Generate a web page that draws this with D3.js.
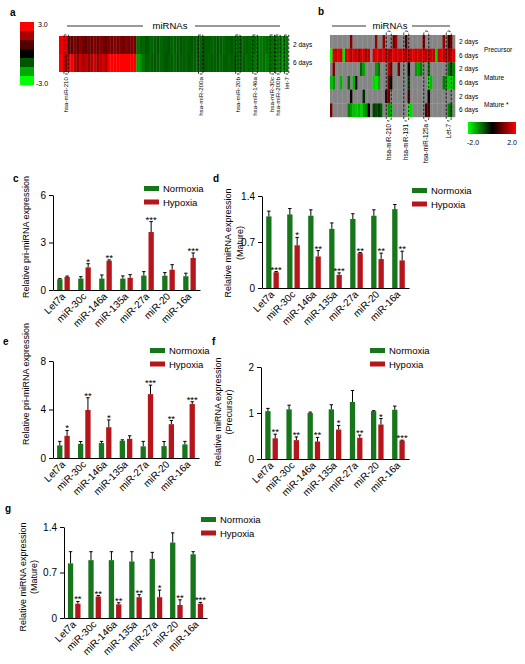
<!DOCTYPE html>
<html><head><meta charset="utf-8">
<script src="https://cdn.jsdelivr.net/npm/d3@7"></script>
<style>
body{margin:0;background:#fff;}
svg{font-family:"Liberation Sans",Arial,Helvetica,sans-serif;}
</style></head>
<body><svg id="fig" width="525" height="664"></svg>
<script>
// ---------------- DATA ----------------
const categories = ["Let7a","miR-30c","miR-146a","miR-135a","miR-27a","miR-20","miR-16a"];
const seriesNames = ["Normoxia","Hypoxia"];

const cNormoxia    = [0.68,0.72,0.72,0.72,0.91,0.90,0.87];
const cNormoxiaErr = [0.04,0.12,0.23,0.17,0.25,0.20,0.19];
const cHypoxia     = [0.83,1.43,1.85,0.77,3.66,1.28,2.02];
const cHypoxiaErr  = [0.05,0.23,0.05,0.20,0.66,0.32,0.32];
const cStars       = ["","*","**","","***","","***"];
const cTicks = [0,3,6];

const dNormoxia    = [1.09,1.12,1.10,0.90,1.05,1.10,1.20];
const dNormoxiaErr = [0.08,0.09,0.09,0.09,0.08,0.09,0.07];
const dHypoxia     = [0.24,0.65,0.48,0.20,0.53,0.44,0.42];
const dHypoxiaErr  = [0.01,0.12,0.09,0.03,0.01,0.09,0.14];
const dStars       = ["***","*","**","***","**","**","**"];
const dTicks = [0,0.7,1.4];

const eNormoxia    = [1.04,1.17,1.23,1.42,0.96,0.98,1.12];
const eNormoxiaErr = [0.33,0.19,0.14,0.08,0.41,0.38,0.25];
const eHypoxia     = [1.83,3.96,2.54,1.58,5.27,2.79,4.45];
const eHypoxiaErr  = [0.44,1.01,0.60,0.25,0.74,0.30,0.19];
const eStars       = ["*","**","*","","***","**","***"];
const eTicks = [0,4,8];

const fNormoxia    = [1.04,1.08,1.00,1.08,1.24,1.04,1.07];
const fNormoxiaErr = [0.06,0.09,0.02,0.10,0.25,0.01,0.08];
const fHypoxia     = [0.45,0.41,0.38,0.64,0.46,0.75,0.40];
const fHypoxiaErr  = [0.09,0.07,0.09,0.09,0.06,0.13,0.01];
const fStars       = ["**","**","**","*","**","*","***"];
const fTicks = [0,1,2];

const gNormoxia    = [0.84,0.89,0.89,0.87,0.91,1.16,0.98];
const gNormoxiaErr = [0.18,0.13,0.13,0.15,0.10,0.15,0.04];
const gHypoxia     = [0.22,0.33,0.21,0.32,0.32,0.20,0.22];
const gHypoxiaErr  = [0.035,0.015,0.025,0.04,0.11,0.08,0.02];
const gStars       = ["**","**","**","**","*","**","***"];
const gTicks = [0,0.7,1.4];

// heatmap a (log2 fold, -3..3), 80 miRNA columns
const aRows = ["2 days","6 days"];
const a2days = [2.7,2.9,2.6,
 1.3,1.1,1.5,1.2,1.6,1.3,1.1,1.4,1.2,1.5,1.3,1.6,1.4,1.2,1.5,1.3,1.6,1.4,1.5,1.3,1.6,1.4,1.5,1.3,
 -1.3,-1.1,-1.2,-1.0,-1.1,-1.2,-1.1,-1.0,-1.2,-1.1,
 -1.1,-1.0,-1.2,-1.1,-1.1,-1.0,-1.1,-1.2,-1.1,-1.0,
 -1.1,-1.1,-1.2,-1.0,-1.1,-1.1,-1.2,-1.1,-1.0,-1.1,
 -1.2,-1.1,-1.1,-1.0,-1.2,-1.1,-1.1,-1.2,-1.1,-1.2,
 -1.3,-1.2,-1.3,-1.4,-1.3,-1.2,-1.4,-1.3,-1.5,-1.3,
 -1.4,-1.5,-1.4];
const a6days = [3.0,2.9,1.5,2.8,2.9,
 2.2,1.8,2.4,2.0,2.3,1.7,2.1,2.4,1.9,2.2,2.5,2.0,
 3.0,3.0,3.0,3.0,3.0,3.0,3.0,3.0,3.0,3.0,
 -1.9,-1.7,-1.4,-1.1,-1.2,-1.1,-1.0,-1.1,-1.2,-1.1,
 -1.0,-1.1,-1.1,-1.2,-1.0,-1.1,-1.1,-1.2,-1.0,-1.1,
 -1.1,-1.2,-1.1,-1.0,-1.1,-1.2,-1.1,-1.1,-1.0,-1.2,
 -1.1,-1.1,-1.2,-1.1,-1.0,-1.1,-1.2,-1.1,-1.3,-1.2,
 -1.3,-1.4,-1.2,-1.4,-1.3,-1.5,-1.4,-1.3,-1.6,-1.4,
 -1.5,-1.6,-1.5];
const aHighlightNames = ["hsa-miR-210","hsa-miR-200a","hsa-miR-20b","hsa-miR-146a","hsa-miR-30c","hsa-miR-200b","let-7"];
const aHighlightCols  = [2,49,62,68,74,76,79];
const aLegendValues = [3,2,1,0,-1,-2,-3];
const aLegendLabels = ["3.0","-3.0"];

// heatmap b (-2..2, null = not detected), 50 columns
const bRowLabels = ["2 days","6 days","2 days","6 days","2 days","6 days"];
const bGroupLabels = ["Precursor","Mature","Mature *"];
const bPre2 = [null,null,null,null,null,null,null,null,1.0,null,
 null,null,null,null,null,null,null,null,1.2,null,
 null,1.1,null,null,null,0.9,1.3,null,null,null,
 0.6,null,null,null,null,null,null,1.0,null,null,
 null,null,null,null,null,1.2,null,0.4,1.0,null];
const bPre6 = [-2.0,1.7,1.5,1.8,1.6,-1.8,1.6,1.8,1.4,1.7,
 1.5,1.3,1.6,1.7,1.2,1.5,null,1.6,1.8,1.7,
 1.5,1.8,1.6,1.3,1.7,1.8,1.5,1.7,1.6,1.8,
 1.2,1.7,1.6,1.8,1.5,1.7,1.6,1.8,1.4,1.7,
 1.6,1.5,-1.7,1.6,1.8,1.5,1.7,1.2,1.6,1.7];
const bMat2 = [null,1.0,null,null,null,null,null,null,null,null,
 null,null,-0.8,-1.3,null,null,null,null,-1.2,-0.9,
 null,null,null,1.4,1.0,null,null,0.9,null,null,
 null,0.1,null,null,-1.2,-1.3,-1.0,null,null,-1.0,
 null,null,null,null,null,null,null,-0.9,-0.6,-1.0];
const bMat6 = [-1.5,-1.2,null,null,-1.4,null,null,-0.8,null,-1.4,
 0.0,null,null,null,null,null,null,-1.7,-1.8,-1.4,
 null,null,null,0.8,0.2,null,null,null,null,null,
 null,-0.6,null,null,null,null,null,null,null,-1.9,
 -1.5,null,null,null,null,-1.0,-1.3,-1.6,-1.8,-1.2];
const bStar2 = [null,null,null,null,null,null,null,null,0.1,null,
 null,null,null,-0.3,null,null,null,null,null,null,
 null,null,0.6,0.9,null,null,null,null,null,null,
 null,0.7,null,null,null,null,null,null,null,0.1,
 null,null,null,null,null,null,null,null,null,null];
const bStar6 = [0.9,null,null,null,null,null,null,-1.0,-1.2,-1.5,
 -1.6,-1.4,-1.7,-1.3,-1.1,0.1,null,-0.5,-0.6,-0.4,
 -0.7,null,null,-1.2,-1.5,null,null,null,null,null,
 null,-2.0,-1.7,null,null,null,null,null,0.6,0.8,
 null,null,null,null,null,null,null,-1.0,-0.8,null];
const bHighlightNames = ["hsa-miR-210","hsa-miR-191","hsa-miR-125a","Let-7"];
const bHighlightCols  = [23,30,38,47];
const bLegendLabels = ["-2.0","2.0"];

// ---------------- DRAW ----------------
const svg = d3.select("#fig");
const GREEN = "#17761b", RED = "#b5161b";

function panelLabel(t,x,y){
  svg.append("text").attr("x",x).attr("y",y).attr("font-size",10).attr("font-weight","bold").text(t);
}

// ---- panel a ----
panelLabel("a",10,16);
const aColor = d3.scaleLinear().domain([-3,0,3]).range(["#00ff00","#000000","#ff0000"]).clamp(true);
const aLeg = d3.scaleBand().domain(d3.range(aLegendValues.length)).range([22,85]);
svg.append("g").selectAll("rect").data(aLegendValues).join("rect")
  .attr("x",20).attr("width",14).attr("y",(d,i)=>aLeg(i)).attr("height",aLeg.bandwidth()+0.3)
  .attr("fill",d=>aColor(d));
svg.append("text").attr("x",38).attr("y",27).attr("font-size",7).text(aLegendLabels[0]);
svg.append("text").attr("x",36).attr("y",86).attr("font-size",7).text(aLegendLabels[1]);

const aX = d3.scaleBand().domain(d3.range(a2days.length)).range([59,288]);
const aY = d3.scaleBand().domain(aRows).range([36,72]);
const aData = [a2days,a6days];
aData.forEach((row,ri)=>{
  svg.append("g").selectAll("rect").data(row).join("rect")
    .attr("x",(d,i)=>aX(i)).attr("width",aX.bandwidth()+0.3)
    .attr("y",aY(aRows[ri])).attr("height",aY.bandwidth())
    .attr("fill",d=>aColor(d));
});
aRows.forEach(r=>svg.append("text").attr("x",293).attr("y",aY(r)+aY.bandwidth()/2+2.2).attr("font-size",6.5).text(r));
// miRNAs header a
svg.append("line").attr("x1",67).attr("x2",143).attr("y1",26).attr("y2",26).attr("stroke","#000").attr("stroke-width",0.8);
svg.append("line").attr("x1",195).attr("x2",280).attr("y1",26).attr("y2",26).attr("stroke","#000").attr("stroke-width",0.8);
svg.append("text").attr("x",170).attr("y",29).attr("text-anchor","middle").attr("font-size",9.5).text("miRNAs");
aHighlightCols.forEach((c,i)=>{
  const cx = aX(c)+aX.bandwidth()/2;
  svg.append("rect").attr("x",cx-2.2).attr("width",4.4).attr("y",35).attr("height",39)
    .attr("fill","none").attr("stroke","#000").attr("stroke-width",0.8).attr("stroke-dasharray","2.5,1.5");
  svg.append("text").attr("transform",`translate(${cx+2.2},77) rotate(-90)`)
    .attr("text-anchor","end").attr("font-size",6.2).text(aHighlightNames[i]);
});

// ---- panel b ----
panelLabel("b",318,15);
const bColor = d3.scaleLinear().domain([-2,0,2]).range(["#00ff00","#000000","#ff0000"]).clamp(true);
const bRows = [bPre2,bPre6,bMat2,bMat6,bStar2,bStar6];
const bX = d3.scaleBand().domain(d3.range(bPre2.length)).range([330,455]);
const bY = d3.scaleBand().domain(d3.range(bRows.length)).range([35,117]);
bRows.forEach((row,ri)=>{
  svg.append("g").selectAll("rect").data(row).join("rect")
    .attr("x",(d,i)=>bX(i)).attr("width",bX.bandwidth()+0.3)
    .attr("y",bY(ri)).attr("height",bY.bandwidth()+0.2)
    .attr("fill",d=>d===null?"#858585":bColor(d));
  svg.append("text").attr("x",459).attr("y",bY(ri)+bY.bandwidth()/2+2.2).attr("font-size",6.5).text(bRowLabels[ri]);
});
bGroupLabels.forEach((t,i)=>{
  svg.append("text").attr("x",484).attr("y",bY(i*2)+bY.bandwidth()+3.5).attr("font-size",6.5).text(t);
});
svg.append("line").attr("x1",332).attr("x2",366).attr("y1",26).attr("y2",26).attr("stroke","#000").attr("stroke-width",0.8);
svg.append("line").attr("x1",412).attr("x2",450).attr("y1",26).attr("y2",26).attr("stroke","#000").attr("stroke-width",0.8);
svg.append("text").attr("x",390).attr("y",29).attr("text-anchor","middle").attr("font-size",9.5).text("miRNAs");
bHighlightCols.forEach((c,i)=>{
  const cx = bX(c)+bX.bandwidth()/2;
  svg.append("rect").attr("x",cx-2.5).attr("width",5).attr("y",31).attr("height",90).attr("rx",2.5)
    .attr("fill","none").attr("stroke","#000").attr("stroke-width",0.8).attr("stroke-dasharray","2.5,1.5");
  svg.append("text").attr("transform",`translate(${cx+2.2},124) rotate(-90)`)
    .attr("text-anchor","end").attr("font-size",6.3).text(bHighlightNames[i]);
});
const defs = svg.append("defs");
const grad = defs.append("linearGradient").attr("id","bgrad");
[[0,-2],[50,0],[100,2]].forEach(([o,v])=>grad.append("stop").attr("offset",o+"%").attr("stop-color",bColor(v)));
svg.append("rect").attr("x",468).attr("y",122).attr("width",48).attr("height",12).attr("fill","url(#bgrad)");
svg.append("text").attr("x",473).attr("y",145).attr("text-anchor","middle").attr("font-size",7).text(bLegendLabels[0]);
svg.append("text").attr("x",512).attr("y",145).attr("text-anchor","middle").attr("font-size",7).text(bLegendLabels[1]);

// ---- bar charts ----
function barChart(cfg){
  const g = svg.append("g");
  const x = d3.scaleBand().domain(categories).range([cfg.x0,cfg.x1]);
  const y = d3.scaleLinear().domain([0,cfg.ticks[cfg.ticks.length-1]]).range([cfg.y0,cfg.y1]);
  const bw = 5.3, gap = 1;
  const series = [
    {vals:cfg.norm, errs:cfg.normErr, color:GREEN, off:-gap-bw},
    {vals:cfg.hyp, errs:cfg.hypErr, color:RED, off:gap}
  ];
  series.forEach(s=>{
    categories.forEach((c,i)=>{
      const cx = x(c)+x.bandwidth()/2;
      const bx = cx + s.off;
      g.append("rect").attr("x",bx).attr("width",bw).attr("y",y(s.vals[i])).attr("height",y(0)-y(s.vals[i])).attr("fill",s.color);
      const mx = bx+bw/2, top = y(s.vals[i]+s.errs[i]);
      g.append("line").attr("x1",mx).attr("x2",mx).attr("y1",y(s.vals[i])).attr("y2",top).attr("stroke","#000").attr("stroke-width",1);
      g.append("line").attr("x1",mx-1.7).attr("x2",mx+1.7).attr("y1",top).attr("y2",top).attr("stroke","#000").attr("stroke-width",1);
    });
  });
  // stars
  categories.forEach((c,i)=>{
    const cx = x(c)+x.bandwidth()/2 + gap + bw/2;
    const top = y(cfg.hyp[i]+cfg.hypErr[i]);
    g.append("text").attr("x",cx).attr("y",top+1).attr("text-anchor","middle").attr("font-size",9.5).text(cfg.stars[i]);
  });
  // y axis
  const ya = g.append("g").attr("transform",`translate(${cfg.x0},0)`)
    .call(d3.axisLeft(y).tickValues(cfg.ticks).tickSize(4).tickSizeOuter(0).tickPadding(3).tickFormat(d=>String(d)));
  ya.selectAll("text").attr("font-size",10).attr("font-family",null);
  ya.selectAll("path,line").attr("stroke","#000");
  // x axis
  const xa = g.append("g").attr("transform",`translate(0,${cfg.y0})`)
    .call(d3.axisBottom(x).tickSize(0).tickSizeOuter(0).tickFormat(""));
  xa.select("path").attr("stroke","#000");
  categories.forEach(c=>{
    const cx = x(c)+x.bandwidth()/2;
    g.append("text").attr("transform",`translate(${cx+2.5},${cfg.y0+7}) rotate(-45)`)
      .attr("text-anchor","end").attr("font-size",10).text(c);
  });
  // y title
  cfg.title.forEach((t,i)=>{
    g.append("text").attr("transform",`translate(${cfg.titleX[i]},${cfg.titleY}) rotate(-90)`)
      .attr("text-anchor","middle").attr("font-size",9).text(t);
  });
  // legend
  [GREEN,RED].forEach((col,i)=>{
    const ly = cfg.legY + i*13.5;
    g.append("rect").attr("x",cfg.legX).attr("y",ly).attr("width",15).attr("height",5).attr("fill",col);
    g.append("text").attr("x",cfg.legX+19).attr("y",ly+6).attr("font-size",9.5).text(seriesNames[i]);
  });
}

panelLabel("c",13,182);
barChart({norm:cNormoxia,normErr:cNormoxiaErr,hyp:cHypoxia,hypErr:cHypoxiaErr,stars:cStars,ticks:cTicks,
  x0:53,x1:200,y0:290,y1:195,title:["Relative pri-miRNA expression"],titleX:[29],titleY:237,legX:144,legY:186});
panelLabel("d",213,182);
barChart({norm:dNormoxia,normErr:dNormoxiaErr,hyp:dHypoxia,hypErr:dHypoxiaErr,stars:dStars,ticks:dTicks,
  x0:262,x1:409,y0:288,y1:196,title:["Relative miRNA expression","(Mature)"],titleX:[231,243],titleY:243,legX:412,legY:188});
panelLabel("e",3,345);
barChart({norm:eNormoxia,normErr:eNormoxiaErr,hyp:eHypoxia,hypErr:eHypoxiaErr,stars:eStars,ticks:eTicks,
  x0:53,x1:199,y0:458,y1:361,title:["Relative pri-miRNA expression"],titleX:[29],titleY:384,legX:150,legY:348});
panelLabel("f",212,345);
barChart({norm:fNormoxia,normErr:fNormoxiaErr,hyp:fHypoxia,hypErr:fHypoxiaErr,stars:fStars,ticks:fTicks,
  x0:261,x1:409,y0:459,y1:367,title:["Relative miRNA expression","(Precursor)"],titleX:[221,232],titleY:412,legX:370,legY:348});
panelLabel("g",5,512);
barChart({norm:gNormoxia,normErr:gNormoxiaErr,hyp:gHypoxia,hypErr:gHypoxiaErr,stars:gStars,ticks:gTicks,
  x0:64,x1:207,y0:618,y1:527,title:["Relative miRNA expression","(Mature)"],titleX:[26,37],titleY:577,legX:201,legY:517});
</script></body></html>
